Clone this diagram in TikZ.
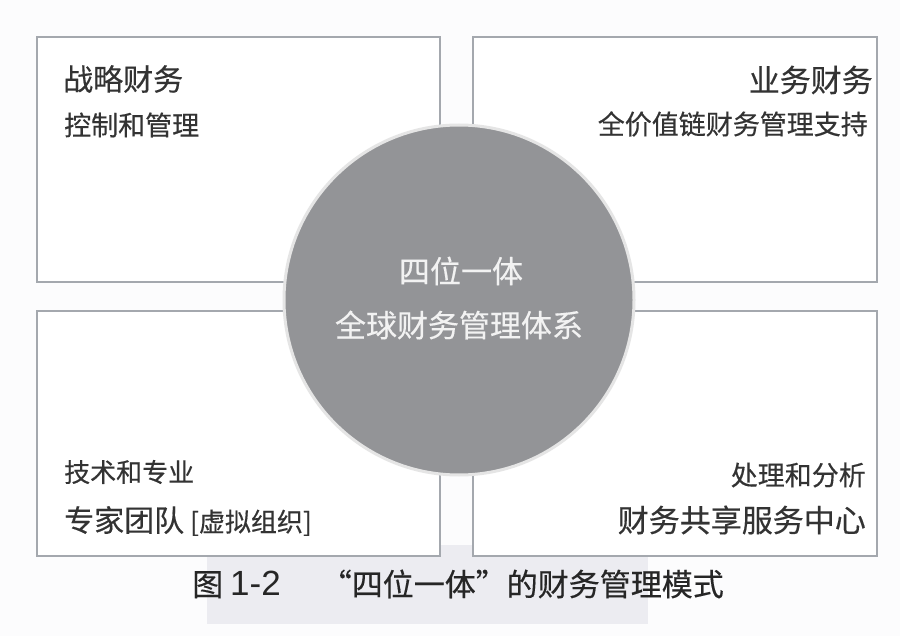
\documentclass[tikz,border=0pt]{standalone}
\usepackage{fontspec}
\setmainfont{Noto Sans CJK SC}
\newfontfamily\cjk[FakeBold=0.35]{Noto Sans CJK SC}
\newfontfamily\latinsans{Liberation Sans}
\begin{document}
\begin{tikzpicture}[x=1pt,y=-1pt,
  quad/.style={draw=boxline,line width=1.2pt,fill=white},
  txt/.style={inner sep=0pt,text=textgray,font=\cjk},
]
\definecolor{boxline}{HTML}{A4A8AE}
\definecolor{textgray}{HTML}{333333}
\definecolor{circfill}{HTML}{939497}
\definecolor{circtext}{HTML}{F2F2F2}
\definecolor{bgcol}{HTML}{FCFCFD}
\definecolor{hlcol}{HTML}{ECECF1}
\useasboundingbox (0,0) rectangle (900,636);
\fill[bgcol] (0,0) rectangle (900,636);
% caption highlight
\fill[hlcol] (207,545) rectangle (648,624);
% four quadrants
\draw[quad] (37,37) rectangle (440,282);
\draw[quad] (473,37) rectangle (877,282);
\draw[quad] (37,311) rectangle (440,556);
\draw[quad] (473,311) rectangle (877,556);
% centre circle
\node[circle,fill=circfill,draw=gray!20,line width=3pt,minimum size=350pt,inner sep=0pt] (core) at (459,300) {};
\node[txt,text=circtext,font=\cjk\fontsize{31}{36}\selectfont] (c1) at (461,271) {四位一体};
\node[txt,text=circtext,font=\cjk\fontsize{31}{36}\selectfont] (c2) at (459,325) {全球财务管理体系};
% top left
\node[txt,anchor=west,font=\cjk\fontsize{30}{34}\selectfont] (tl1) at (63,79) {战略财务};
\node[txt,anchor=west,font=\cjk\fontsize{27}{30}\selectfont] (tl2) at (64,125) {控制和管理};
% top right
\node[txt,anchor=east,font=\cjk\fontsize{31}{34}\selectfont] (tr1) at (873,80) {业务财务};
\node[txt,anchor=east,font=\cjk\fontsize{27}{30}\selectfont] (tr2) at (868,124) {全价值链财务管理支持};
% bottom left
\node[txt,anchor=west,font=\cjk\fontsize{26}{30}\selectfont] (bl1) at (64,472) {技术和专业};
\node[txt,anchor=west,font=\cjk\fontsize{30}{32}\selectfont] (bl2) at (64,521) {专家团队\hspace{6pt}{\fontsize{26}{28}\selectfont [虚拟组织]}};
% bottom right
\node[txt,anchor=east,font=\cjk\fontsize{27}{30}\selectfont] (br1) at (866,475) {处理和分析};
\node[txt,anchor=east,font=\cjk\fontsize{31}{34}\selectfont] (br2) at (866,520) {财务共享服务中心};
% caption
\node[txt,anchor=west,text=black!85,font=\cjk\fontsize{31}{36}\selectfont] (cap) at (192,584) {图\hspace{7pt}{\latinsans\fontsize{35}{36}\selectfont 1-2}\hspace{40pt}“四位一体”的财务管理模式};
\end{tikzpicture}
\end{document}
